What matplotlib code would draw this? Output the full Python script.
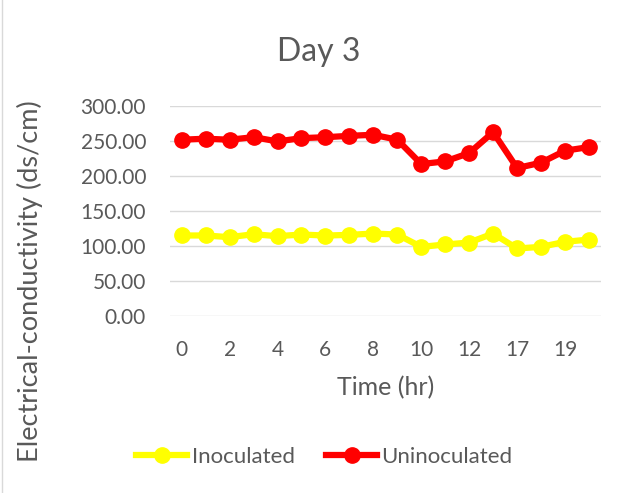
import matplotlib.pyplot as plt
from matplotlib.lines import Line2D
from matplotlib.patches import Rectangle

plt.rcParams['font.family'] = ['Lato', 'DejaVu Sans']

# category labels on the time axis (only every other one is shown)
hours = ['0', '1', '2', '3', '4', '5', '6', '7', '8', '9', '10', '11', '12',
         '15', '17', '18', '19', '20']
inoculated = [115.3, 115.3, 112.9, 117.1, 114.3, 116.7, 115.2, 116.2, 118.1,
              116.7, 99.0, 102.4, 105.2, 118.1, 96.7, 99.0, 106.2, 109.5]
uninoculated = [252.4, 253.9, 252.4, 256.1, 250.0, 254.7, 256.0, 258.0, 259.5,
                252.4, 217.6, 221.4, 233.3, 263.3, 211.9, 219.5, 236.7, 241.9]
yticks = [0, 50, 100, 150, 200, 250, 300]

txt = '#595959'
fig = plt.figure(figsize=(6.24, 4.93), dpi=100)
ax = fig.add_axes([0.272, 0.359, 0.691, 0.425])

pos = list(range(len(hours)))
ax.plot(pos, inoculated, '-o', color='#FFFF00', lw=4.5, ms=11, zorder=3)
ax.plot(pos, uninoculated, '-o', color='#FF0000', lw=4.5, ms=11, zorder=3)

ax.set_xlim(-0.5, len(hours) - 0.5)
ax.set_ylim(0, 300)
ax.set_yticks(yticks)
ax.set_yticklabels(['%.2f' % v for v in yticks])
ax.set_xticks(pos[::2])
ax.set_xticklabels(hours[::2])
ax.grid(axis='y', color='#D9D9D9', lw=1)
ax.set_axisbelow(True)
for s in ax.spines.values():
    s.set_visible(False)
ax.tick_params(length=0, labelsize=15, colors=txt)
ax.tick_params(axis='y', pad=17)
ax.tick_params(axis='x', pad=17)

fig.text(0.51, 0.895, 'Day 3', fontsize=23, color=txt, ha='center', va='center')
ax.set_xlabel('Time (hr)', fontsize=18, color=txt, labelpad=12)
fig.text(0.048, 0.43, 'Electrical-conductivity (ds/cm)', rotation=90,
         fontsize=19.5, color=txt, ha='center', va='center')

handles = [Line2D([], [], color='#FFFF00', lw=4.5, marker='o', ms=11),
           Line2D([], [], color='#FF0000', lw=4.5, marker='o', ms=11)]
fig.legend(handles, ['Inoculated', 'Uninoculated'], loc='center',
           bbox_to_anchor=(0.52, 0.073), ncol=2, frameon=False,
           fontsize=16, labelcolor=txt, handlelength=2.3,
           handletextpad=0.2, columnspacing=1.4)

fig.patches.append(Rectangle((0.004, -0.01), 1.2, 1.2, transform=fig.transFigure,
                             fill=False, edgecolor='#D9D9D9', lw=1))

fig.savefig('out.png', dpi=100)
